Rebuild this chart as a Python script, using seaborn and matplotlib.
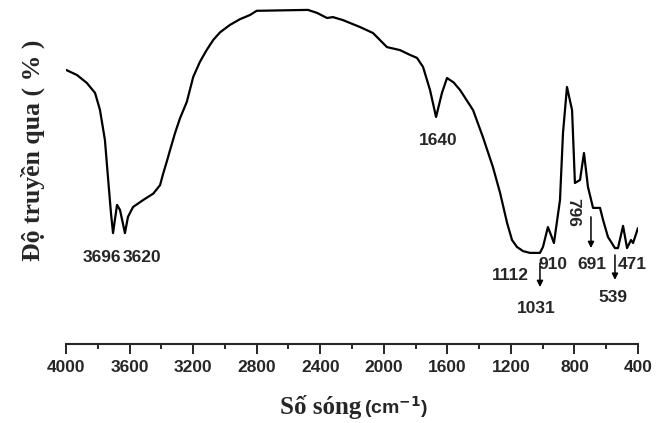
import numpy as np
import pandas as pd
import matplotlib
matplotlib.use('Agg')
import matplotlib.pyplot as plt
import seaborn as sns

# IR spectrum (wavenumber cm-1, transmittance arbitrary %)
wavenumber = [4000, 3931, 3868, 3817, 3786, 3755, 3736, 3717, 3704, 3679,
              3660, 3629, 3610, 3578, 3515, 3450, 3408, 3388, 3366, 3345,
              3314, 3283, 3240, 3199, 3157, 3115, 3073, 3031, 2968, 2905,
              2842, 2800, 2477, 2420, 2357, 2320, 2257, 2150, 2068, 1980,
              1898, 1835, 1791, 1753, 1709, 1671, 1634, 1602, 1560, 1520,
              1438, 1376, 1313, 1268, 1224, 1193, 1162, 1124, 1080, 1017,
              998, 967, 950, 929, 891, 872, 847, 815, 797, 765,
              740, 715, 683, 639, 620, 589, 545, 526, 494, 469,
              444, 431, 400]
transmittance = [76.7, 75.0, 72.3, 69.0, 63.3, 53.3, 41.0, 29.0, 22.3, 31.7,
                 30.0, 22.3, 27.7, 31.0, 33.3, 35.5, 38.3, 42.2, 46.1, 50.0,
                 55.6, 60.5, 66.0, 74.4, 79.4, 83.3, 86.7, 89.2, 91.7, 93.6,
                 95.0, 96.4, 96.7, 95.7, 94.0, 94.3, 93.3, 91.0, 89.0, 84.3,
                 83.3, 81.7, 80.7, 77.7, 70.0, 61.0, 69.0, 74.0, 72.5, 70.0,
                 63.3, 54.3, 44.3, 35.7, 25.7, 20.0, 17.7, 16.3, 15.7, 15.7,
                 17.7, 24.3, 22.0, 19.0, 33.3, 55.7, 71.0, 63.3, 39.0, 40.0,
                 49.0, 37.7, 30.7, 30.7, 26.7, 21.0, 17.3, 17.3, 24.7, 17.3,
                 20.0, 19.0, 24.0]

# peak labels and where they sit (wavenumber, transmittance)
peak_labels = ['3696', '3620', '1640', '1112', '1031', '910', '691', '471', '539']
label_x = [3773, 3522, 1659, 1206, 1042, 935, 689, 438, 557]
label_y = [14.3, 14.3, 53.3, 8.3, -3.0, 11.7, 11.7, 11.7, 0.7]

# arrows: wavenumber, start, end
arrow_x = [1017, 696, 545]
arrow_from = [12.3, 27.7, 15.0]
arrow_to = [4.3, 17.3, 6.7]

df = pd.DataFrame({'wn': wavenumber, 'T': transmittance})

sns.set_style('white')
plt.rcParams['font.family'] = ['Liberation Sans', 'DejaVu Sans']

fig = plt.figure(figsize=(6.66, 4.23), dpi=100)
ax = fig.add_axes([66 / 666, 79 / 423, 572 / 666, 344 / 423])

sns.lineplot(data=df, x='wn', y='T', ax=ax, color='black', lw=1.6,
             estimator=None, sort=False)

ax.set_xlim(4000, 400)
ax.set_ylim(-14.67, 100)
for side in ['top', 'right', 'left']:
    ax.spines[side].set_visible(False)
ax.spines['bottom'].set_linewidth(1.5)
ax.set_yticks([])
ax.set_xticks(np.arange(4000, 399, -400))
ax.set_xticks(np.arange(3800, 400, -400), minor=True)
ax.tick_params(axis='x', which='major', direction='out', length=7.2, width=1.4,
               pad=4, labelsize=12.5, bottom=True)
ax.tick_params(axis='x', which='minor', direction='out', length=3.6, width=1.4,
               bottom=True)
for t in ax.get_xticklabels():
    t.set_fontweight('bold')
ax.set_xlabel('')
ax.set_ylabel('')

for txt, x, y in zip(peak_labels, label_x, label_y):
    ax.text(x, y, txt, ha='center', va='center', fontsize=12.5, fontweight='bold')
ax.text(809, 29.3, '796', ha='center', va='center', fontsize=12.5,
        fontweight='bold', rotation=-90)

for x, y0, y1 in zip(arrow_x, arrow_from, arrow_to):
    ax.annotate('', xy=(x, y1), xytext=(x, y0),
                arrowprops=dict(arrowstyle='-|>', lw=1.1, color='black',
                                mutation_scale=9, shrinkA=0, shrinkB=0))

fig.text(33 / 666, 1 - 150 / 423, 'Độ truyền qua ( % )', rotation=90,
         ha='center', va='center', fontsize=18.5, fontweight='bold',
         family=['Liberation Serif', 'DejaVu Serif'])
fig.text(361 / 666, 1 - 414 / 423, 'Số sóng', ha='right', va='baseline',
         fontsize=18, fontweight='bold',
         family=['Liberation Serif', 'DejaVu Serif'])
fig.text(364 / 666, 1 - 414 / 423, '(cm$^{\\mathbf{-1}}$)', ha='left',
         va='baseline', fontsize=14, fontweight='bold')

fig.savefig('out.png', dpi=100, facecolor='white')
